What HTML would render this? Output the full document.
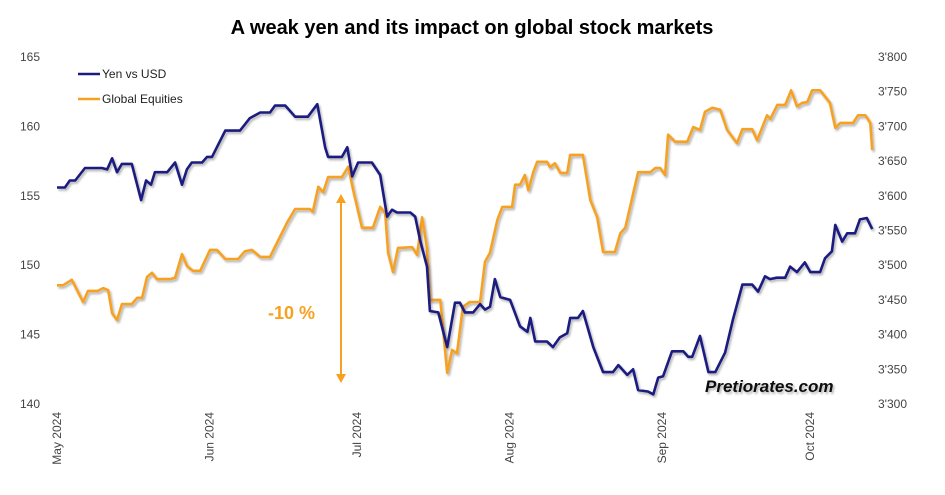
<!DOCTYPE html>
<html><head><meta charset="utf-8"><style>
body{margin:0;background:#fff;width:945px;height:490px;overflow:hidden;font-family:"Liberation Sans",Arial,sans-serif}
svg text{font-family:"Liberation Sans",Arial,sans-serif}
</style></head><body>
<svg id="chart" width="945" height="490" viewBox="0 0 945 490" xmlns="http://www.w3.org/2000/svg">
<defs><filter id="sh" x="-5%" y="-5%" width="110%" height="110%"><feDropShadow dx="1.5" dy="2" stdDeviation="1" flood-color="#000" flood-opacity="0.3"/></filter></defs>
<text x="472" y="34" text-anchor="middle" font-size="20" font-weight="bold" fill="#000">A weak yen and its impact on global stock markets</text>
<g id="axes"></g>
<g id="series"></g>
<g>
<line x1="78" y1="74" x2="100" y2="74" stroke="#1a1a80" stroke-width="2.5"/>
<text x="102" y="78" font-size="12" fill="#222">Yen vs USD</text>
<line x1="78" y1="99" x2="100" y2="99" stroke="#f7a120" stroke-width="2.5"/>
<text x="102" y="103" font-size="12" fill="#222">Global Equities</text>
</g>
<g stroke="#f7a120" stroke-width="2" fill="#f7a120">
<line x1="341" y1="200" x2="341" y2="377"/>
<polygon points="336,203 346,203 341,194" stroke="none"/>
<polygon points="336,374 346,374 341,383" stroke="none"/>
</g>
<text x="268" y="319" font-size="18" font-weight="bold" fill="#f7a120">-10 %</text>
<text x="705" y="392" font-size="17" font-weight="bold" font-style="italic" fill="#111" filter="url(#sh)">Pretiorates.com</text>
</svg>
<script>
const yenTicks=[165,160,155,150,145,140];
const eqTicks=[3800,3750,3700,3650,3600,3550,3500,3450,3400,3350,3300];
const monthLabels=["May 2024","Jun 2024","Jul 2024","Aug 2024","Sep 2024","Oct 2024"];
const monthDays=[0,31,61,92,123,153];
const yenDays=[0,1.6,2.6,3.7,5.7,9.1,10.2,11.2,12.2,13.2,15.2,17.1,18.1,19.1,19.9,22.4,24,25.4,26.4,27.4,29.5,30.5,31.5,34.2,36.6,37.2,39.2,41.3,43.3,44.3,46.4,48.4,51,52.9,54.5,55.1,57.9,59,60,61.2,62,64,65.7,67.1,68.1,69.1,71.8,72.8,73.8,75.2,75.8,77.5,79.3,80.9,81.9,82.9,84.6,86,87,88,89,90.1,92.1,94.1,95.6,96.2,97.2,99.6,100.8,102.2,103.7,104.3,105.9,106.9,109,111,113,114.1,115.9,117.1,118.1,120.1,121.2,122.2,123.2,125,127.3,128.3,129.1,130.7,132.4,133.8,135.8,137.4,139.3,141.3,142.5,143.9,144.9,146.3,148,149,150.4,152,153.1,155.1,156.1,157.5,158.2,159.6,160.6,162.2,163.2,164.6,165.7];
const yenValues=[155.6,155.6,156.1,156.1,157.0,157.0,156.9,157.7,156.7,157.3,157.3,154.7,156.1,155.8,156.7,156.7,157.4,155.8,156.9,157.4,157.4,157.8,157.8,159.7,159.7,159.7,160.6,161.0,161.0,161.5,161.5,160.7,160.7,161.6,158.5,157.8,157.8,158.5,156.4,157.4,157.4,157.4,156.5,153.5,154.0,153.8,153.8,153.5,151.8,149.9,146.7,146.6,144.1,147.3,147.3,146.6,146.6,147.2,146.8,147.0,149.0,147.7,147.5,145.6,145.2,146.2,144.5,144.5,144.1,144.8,145.1,146.2,146.2,146.7,144.1,142.3,142.3,142.8,142.1,142.5,141.0,140.9,140.7,141.9,142.0,143.8,143.8,143.4,143.4,144.9,142.3,142.3,143.7,146.1,148.6,148.6,148.1,149.2,149.0,149.1,149.1,149.9,149.5,150.2,149.5,149.5,150.5,151.0,152.9,151.7,152.3,152.3,153.3,153.4,152.6];
const eqDays=[0,1.2,3.0,5.3,6.3,8.3,9.4,10.4,11.2,12.2,13.2,15.2,16.3,17.3,18.3,19.3,20.3,23.0,24.0,25.4,26.4,27.6,29.1,31.1,32.5,34.2,36.8,38.2,39.6,41.3,43.3,44.7,46.8,48.4,51.4,52.0,53.1,54.1,55.1,57.9,59.2,60.2,62.0,64.2,65.7,66.7,67.3,68.3,69.3,72.2,73.2,74.2,75.2,75.8,77.9,79.3,80.3,81.3,82.5,83.9,86.0,87.0,88.0,89.5,90.5,92.5,93.1,94.1,95.1,95.8,96.8,97.6,99.6,100.2,101.2,102.3,103.7,104.3,106.9,108.4,109.8,111.0,113.4,114.5,115.5,118.1,120.6,121.6,122.6,123.6,124.2,125.6,128.1,129.3,130.7,131.7,133.2,134.8,136.2,138.2,139.3,141.3,142.3,144.3,145.0,146.4,148.0,149.2,150.4,151.5,152.5,153.5,155.1,157.1,158.2,159.2,161.8,162.8,164.3,165.3,165.7];
const eqValues=[3471,3471,3479,3447,3463,3463,3467,3464,3431,3421,3444,3444,3453,3453,3483,3489,3480,3480,3482,3516,3499,3492,3492,3522,3522,3509,3509,3520,3522,3512,3512,3532,3562,3581,3581,3577,3613,3605,3627,3627,3642,3608,3554,3554,3584,3575,3518,3490,3525,3526,3515,3569,3525,3450,3450,3345,3378,3373,3440,3447,3447,3505,3518,3565,3584,3584,3616,3616,3630,3608,3634,3649,3649,3641,3647,3633,3633,3659,3659,3594,3569,3519,3519,3546,3554,3634,3634,3640,3640,3630,3688,3678,3678,3699,3695,3721,3727,3724,3695,3676,3696,3696,3680,3716,3711,3731,3731,3752,3729,3734,3735,3752,3752,3734,3698,3705,3705,3716,3716,3705,3666];

const NS="http://www.w3.org/2000/svg";
const X0=57,PXD=4.92,TOP=57,BOT=404;
function xScale(d){return X0+d*PXD;}
function yYen(v){return TOP+(165-v)/25*(BOT-TOP);}
function yEq(v){return TOP+(3800-v)/500*(BOT-TOP);}
const axes=document.getElementById('axes'),series=document.getElementById('series');
function mk(tag,attrs,parent,txt){const e=document.createElementNS(NS,tag);for(const k in attrs)e.setAttribute(k,attrs[k]);if(txt!==undefined)e.textContent=txt;parent.appendChild(e);return e;}
yenTicks.forEach(v=>{
  const t=mk('text',{x:40,y:yYen(v)+4,'text-anchor':'end','font-size':12,fill:'#444'},axes,String(v));
  
  
});
eqTicks.forEach(v=>{
  const s=String(v);
  const t=mk('text',{x:878,y:yEq(v)+4,'font-size':12,fill:'#444'},axes,s[0]+"'"+s.slice(1));
  
  
});
monthLabels.forEach((m,i)=>{
  const x=xScale(monthDays[i]);
  const t=mk('text',{x:0,y:0,'text-anchor':'end','font-size':12,fill:'#444',transform:`translate(${x+4},${412}) rotate(-90)`},axes,m);
  
  
});
function path(days,vals,yf){const n=Math.min(days.length,vals.length);let d='';for(let i=0;i<n;i++)d+=(i?'L':'M')+xScale(days[i]).toFixed(1)+','+yf(vals[i]).toFixed(1);return d;}
const pe=mk('path',{d:path(eqDays,eqValues,yEq),fill:'none',stroke:'#f7a120','stroke-width':2.6,'stroke-linejoin':'round',filter:'url(#sh)'},series);


const py=mk('path',{d:path(yenDays,yenValues,yYen),fill:'none',stroke:'#1a1a80','stroke-width':2.6,'stroke-linejoin':'round',filter:'url(#sh)'},series);


</script>
</body></html>
